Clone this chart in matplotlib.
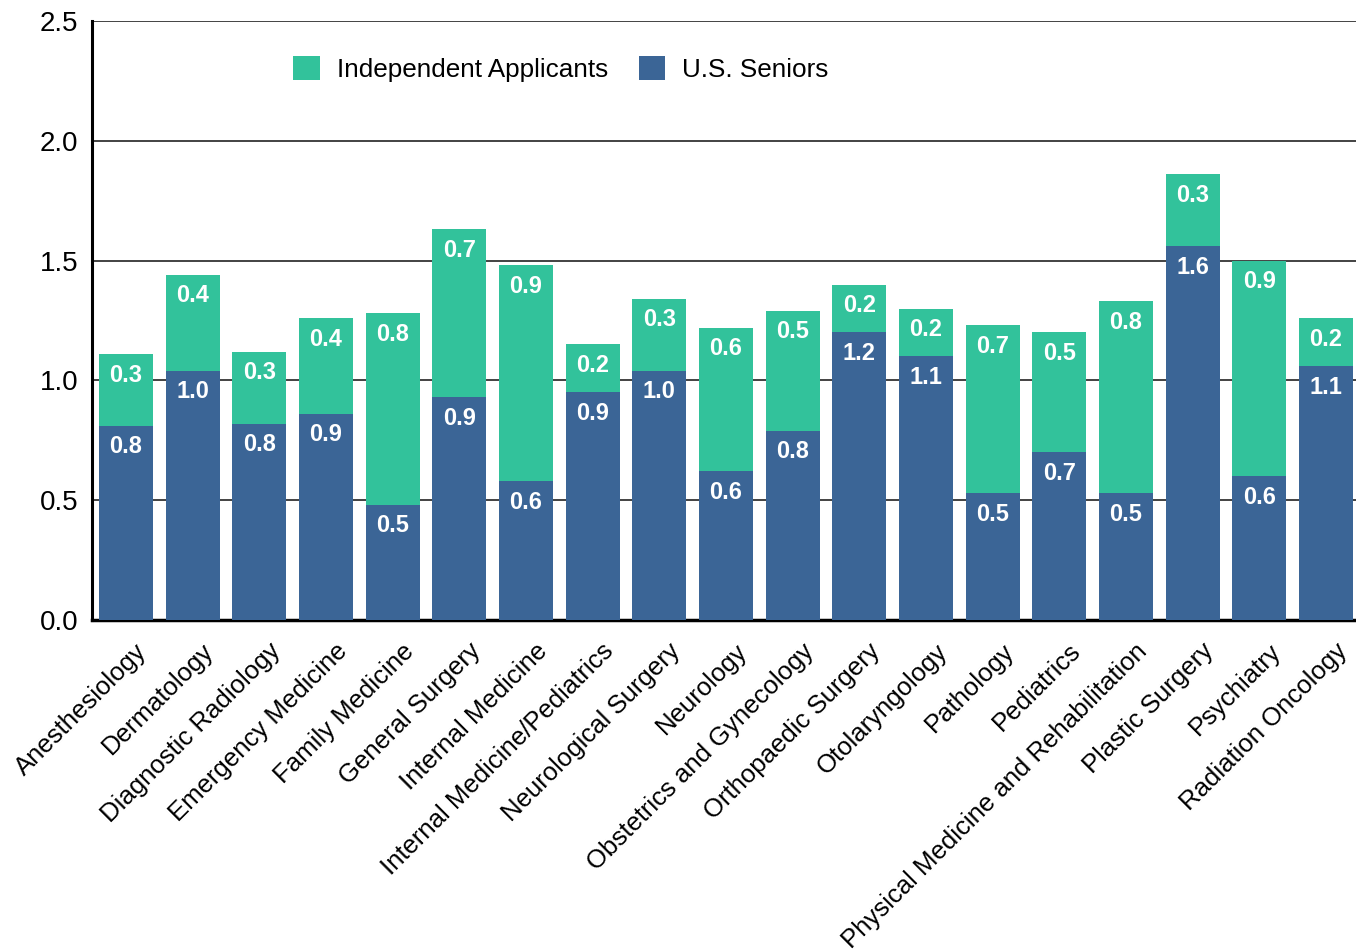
import matplotlib
matplotlib.use("Agg")
import matplotlib.pyplot as plt
import matplotlib.transforms as mtransforms
import numpy as np

plt.rcParams['font.family'] = ['Liberation Sans', 'DejaVu Sans']

categories = ["Anesthesiology", "Dermatology", "Diagnostic Radiology", "Emergency Medicine",
              "Family Medicine", "General Surgery", "Internal Medicine",
              "Internal Medicine/Pediatrics", "Neurological Surgery", "Neurology",
              "Obstetrics and Gynecology", "Orthopaedic Surgery", "Otolaryngology",
              "Pathology", "Pediatrics", "Physical Medicine and Rehabilitation",
              "Plastic Surgery", "Psychiatry", "Radiation Oncology"]
us_seniors = [0.81, 1.04, 0.82, 0.86, 0.48, 0.93, 0.58, 0.95, 1.04, 0.62,
              0.79, 1.20, 1.10, 0.53, 0.70, 0.53, 1.56, 0.60, 1.06]
independent = [0.30, 0.40, 0.30, 0.40, 0.80, 0.70, 0.90, 0.20, 0.30, 0.60,
               0.50, 0.20, 0.20, 0.70, 0.50, 0.80, 0.30, 0.90, 0.20]
yticks = [0.0, 0.5, 1.0, 1.5, 2.0, 2.5]

green = "#32C29B"
blue = "#3B6596"

fig = plt.figure(figsize=(13.56, 9.51), dpi=100)
ax = fig.add_axes([92/1356, 1-620/951, (1356-92)/1356, (620-21)/951])

x = np.arange(len(categories))
w = 0.81
b1 = ax.bar(x, us_seniors, width=w, color=blue, label="U.S. Seniors", zorder=3)
b2 = ax.bar(x, independent, width=w, bottom=us_seniors, color=green,
            label="Independent Applicants", zorder=3)

for xi, s, ind in zip(x, us_seniors, independent):
    ax.annotate(f"{s:.1f}", (xi, s), xytext=(0, -21), textcoords="offset pixels",
                ha="center", va="center", color="white", fontweight="bold",
                fontsize=17, zorder=4)
    ax.annotate(f"{ind:.1f}", (xi, s + ind), xytext=(0, -21), textcoords="offset pixels",
                ha="center", va="center", color="white", fontweight="bold",
                fontsize=17, zorder=4)

ax.set_xlim(-0.51, 18.45)
ax.set_ylim(0, 2.5)
ax.set_yticks(yticks)
ax.set_yticklabels([f"{v:.1f}" for v in yticks], fontsize=20)
ax.yaxis.grid(True, color="#222222", linewidth=1.2, zorder=1)
ax.set_axisbelow(True)
ax.tick_params(axis="both", length=0)
ax.tick_params(axis="y", pad=10)
ax.tick_params(axis="x", pad=0)

ax.set_xticks(x)
ax.set_xticklabels(categories, rotation=45, ha="right", va="top",
                   rotation_mode="anchor", fontsize=18.5)
offset = mtransforms.ScaledTranslation(9/100, -19/100, fig.dpi_scale_trans)
for lbl in ax.get_xticklabels():
    lbl.set_transform(lbl.get_transform() + offset)

for side in ["top", "right"]:
    ax.spines[side].set_visible(False)
ax.spines["left"].set_linewidth(2.2)
ax.spines["bottom"].set_linewidth(2.5)
ax.spines["left"].set_color("black")
ax.spines["bottom"].set_color("black")

handles = [b2, b1]
leg = ax.legend(handles, ["Independent Applicants", "U.S. Seniors"], ncol=2,
                loc="center", bbox_to_anchor=((561-92)/1264, (620-69)/599),
                frameon=False, fontsize=18.8, handlelength=1.0, handleheight=1.0,
                handletextpad=0.65, columnspacing=1.2, borderpad=0)

fig.savefig("out.png", dpi=100)
